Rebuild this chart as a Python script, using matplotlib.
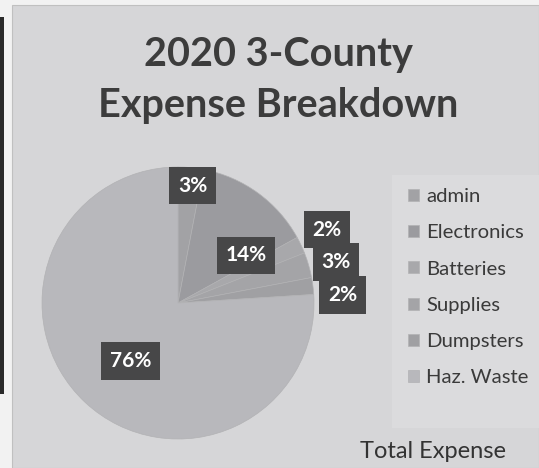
import numpy as np
import matplotlib
matplotlib.use("Agg")
import matplotlib.pyplot as plt
from matplotlib.patches import Rectangle

categories = ["admin", "Electronics", "Batteries", "Supplies", "Dumpsters", "Haz. Waste"]
shares = [3, 14, 2, 3, 2, 76]
pct_labels = ["3%", "14%", "2%", "3%", "2%", "76%"]

colors = ["#a2a2a5", "#9b9b9f", "#a8a8ab", "#a4a4a7", "#a0a0a3", "#b8b8bc"]
label_r = [0.87, 0.61, 1.22, 1.2, 1.21, 0.55]
label_dang = [-1.6, -19, 1, -1.7, -4.4, 4]

plt.rcParams['font.family'] = ['Lato', 'DejaVu Sans']

fig = plt.figure(figsize=(5.39, 4.68), dpi=100)
fig.patch.set_facecolor("#f2f2f2")

W, H = 539, 468
def fx(x): return x / W
def fy(y): return 1 - y / H

# chart background panel
fig.patches.append(Rectangle((fx(12), 0), 1 - fx(12), fy(5), transform=fig.transFigure,
                             facecolor="#d6d6d8", edgecolor="#c0c0c0", lw=0.8, zorder=-10))
# left dark border line (adjacent object)
fig.patches.append(Rectangle((0, fy(394)), fx(4), fy(17) - fy(394), transform=fig.transFigure,
                             facecolor="#2a2a2a", edgecolor="none", zorder=-10))
# slightly lighter legend area
fig.patches.append(Rectangle((fx(392), fy(428)), fx(539) - fx(392), fy(175) - fy(428),
                             transform=fig.transFigure, facecolor="#dbdbdd", edgecolor="none", zorder=-9))

cx, cy, r = 178, 303, 136
ax = fig.add_axes([fx(cx - r), fy(cy + r), (2 * r) / W, (2 * r) / H])
ax.set_facecolor("none")
wedges, _ = ax.pie(shares, colors=colors, startangle=90, counterclock=False,
                   wedgeprops=dict(linewidth=0.5, edgecolor="#b2b2b4"))
ax.set_aspect("equal")
ax.set_xlim(-1, 1)
ax.set_ylim(-1, 1)
ax.axis("off")

for w, lab, rr, da in zip(wedges, pct_labels, label_r, label_dang):
    ang = np.deg2rad((w.theta1 + w.theta2) / 2 + da)
    ax.text(rr * np.cos(ang), rr * np.sin(ang), lab, ha="center", va="center",
            fontsize=15, fontweight="bold", color="white", clip_on=False, zorder=5,
            bbox=dict(boxstyle="square,pad=0.42", facecolor="#474748", edgecolor="none"))

fig.text(fx(278), fy(66), "2020 3-County", ha="center", va="baseline",
         fontsize=28.5, fontweight="bold", color="#3c3c3c")
fig.text(fx(278), fy(117), "Expense Breakdown", ha="center", va="baseline",
         fontsize=28.5, fontweight="bold", color="#3c3c3c")

leg = fig.legend(wedges, categories, loc="upper left", bbox_to_anchor=(fx(408), fy(188)),
                 frameon=False, fontsize=14.6, labelspacing=0.95, handlelength=0.55,
                 handleheight=0.55, handletextpad=0.35, borderaxespad=0, borderpad=0)
for t in leg.get_texts():
    t.set_color("#3a3a3a")

fig.text(fx(433), fy(458), "Total Expense", ha="center", va="baseline",
         fontsize=17, color="#333333")

fig.savefig("out.png", dpi=100, facecolor=fig.get_facecolor())
